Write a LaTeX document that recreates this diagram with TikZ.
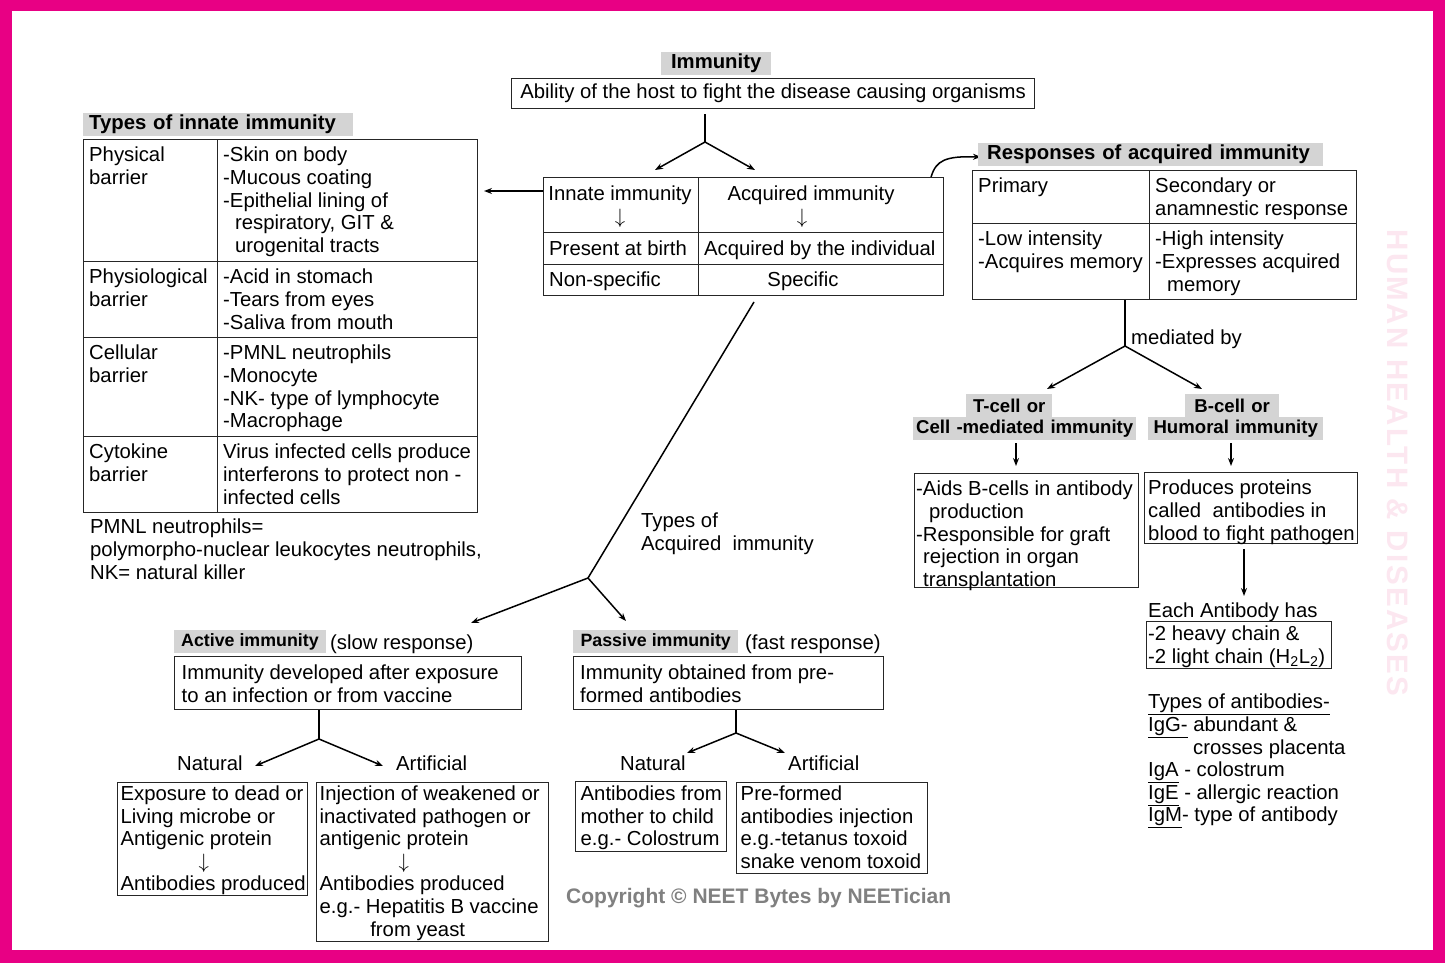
\documentclass[tikz,border=0pt]{standalone}
\usepackage{fontspec}
\setmainfont{Liberation Sans}
\usetikzlibrary{arrows.meta}

\definecolor{borderpink}{RGB}{232,0,132}
\definecolor{labgray}{RGB}{212,212,212}
\definecolor{wmpink}{RGB}{252,231,240}
\definecolor{copygray}{RGB}{128,128,128}
\newcommand{\txtfont}{\fontsize{20.3}{22.6}\selectfont}
\newcommand{\labfont}{\fontsize{18.6}{22}\selectfont\bfseries}
\newcommand{\actfont}{\fontsize{17.8}{22}\selectfont\bfseries}
\newcommand{\dnarrow}{{\fontsize{20}{22.6}\selectfont$\downarrow$}}

\begin{document}
\begin{tikzpicture}[x=1pt, y=-1pt,
  cell/.style={rectangle, draw=black!85, line width=1.1pt, anchor=north west, inner sep=0pt},
  txt/.style={anchor=north west, inner sep=0pt, align=left, font=\txtfont},
  glabel/.style={rectangle, fill=labgray, anchor=north west, inner xsep=6pt, inner ysep=0pt, minimum height=23pt, font=\txtfont\bfseries},
  line/.style={line width=1.5pt},
  arr/.style={line width=1.5pt, -{Stealth[length=8pt,width=6pt]}}]

\useasboundingbox (0,0) rectangle (1445,963);
\fill[borderpink] (0,0) rectangle (1445,963);
\fill[white] (12,11) rectangle (1433,950);

% marca de agua
\node[rotate=-90, text=wmpink, font=\fontsize{29.5}{30}\selectfont\bfseries\addfontfeature{LetterSpace=8}] at (1398,463) (Wmark) {HUMAN HEALTH \& DISEASES};

%% INMUNIDAD
\node[glabel, text width=98pt, align=center] at (661,52) (Immu) {Immunity};
\node[cell, minimum width=523pt, minimum height=30pt, font=\txtfont] at (511,78) (Abil) {Ability of the host to fight the disease causing organisms};

\coordinate (F1) at (705,142);
\coordinate (F1L) at (655,170);
\coordinate (F1R) at (755,170);
\draw[line, shorten <=5pt] (Abil.south -| F1) -- (F1);
\draw[arr] (F1) -- (F1L);
\draw[arr] (F1) -- (F1R);

% Tabla innata / adquirida
\node[cell, minimum width=155pt, minimum height=55pt] at (543,177) (InnH) {};
\node[cell, minimum width=245pt, minimum height=55pt] at (698,177) (AcqH) {};
\node[cell, minimum width=155pt, minimum height=32pt] at (543,232) (InnB) {};
\node[cell, minimum width=245pt, minimum height=32pt] at (698,232) (AcqB) {};
\node[cell, minimum width=155pt, minimum height=31pt] at (543,264) (InnS) {};
\node[cell, minimum width=245pt, minimum height=31pt] at (698,264) (AcqS) {};

\node[txt, align=center, anchor=north] at (620,186) (InnT) {Innate immunity\\\dnarrow};
\node[txt, align=center, anchor=north] at (811,186) (AcqT) {Acquired immunity\\\hspace*{-18pt}\dnarrow};
\node[txt] at (549,240.5) (InnBT) {Present at birth};
\node[txt] at (704,240.5) (AcqBT) {Acquired by the individual};
\node[txt] at (549,271.5) (InnST) {Non-specific};
\node[txt, anchor=north] at (803,271.5) (AcqST) {Specific};

% Flechas a los lados
\coordinate (ToInn) at (484,191);
\draw[arr] (InnH.west |- ToInn) -- (ToInn);
\coordinate (ToResp) at (981,157);
\draw[arr] ([xshift=-13pt]AcqH.north east) .. controls (936,160) and (946,156) .. (ToResp);

%% TIPOS DE INMUNIDAD INNATA
\node[glabel, text width=258pt, align=left] at (83,113) (InnLab) {Types of innate immunity};

\node[cell, minimum width=134pt, minimum height=122pt] at (83,139) (PhysN) {};
\node[cell, minimum width=260pt, minimum height=122pt] at (217,139) (PhysD) {};
\node[cell, minimum width=134pt, minimum height=76pt] at (83,261) (PhyoN) {};
\node[cell, minimum width=260pt, minimum height=76pt] at (217,261) (PhyoD) {};
\node[cell, minimum width=134pt, minimum height=99pt] at (83,337) (CellN) {};
\node[cell, minimum width=260pt, minimum height=99pt] at (217,337) (CellD) {};
\node[cell, minimum width=134pt, minimum height=76pt] at (83,436) (CytoN) {};
\node[cell, minimum width=260pt, minimum height=76pt] at (217,436) (CytoD) {};

\node[txt] at (89,147) (PhysNT) {Physical\\barrier};
\node[txt] at (223,147) (PhysDT) {-Skin on body\\-Mucous coating\\-Epithelial lining of\\\hspace*{12pt}respiratory, GIT \&\\\hspace*{12pt}urogenital tracts};
\node[txt] at (89,269) (PhyoNT) {Physiological\\barrier};
\node[txt] at (223,269) (PhyoDT) {-Acid in stomach\\-Tears from eyes\\-Saliva from mouth};
\node[txt] at (89,345) (CellNT) {Cellular\\barrier};
\node[txt] at (223,345) (CellDT) {-PMNL neutrophils\\-Monocyte\\-NK- type of lymphocyte\\-Macrophage};
\node[txt] at (89,444) (CytoNT) {Cytokine\\barrier};
\node[txt] at (223,444) (CytoDT) {Virus infected cells produce\\interferons to protect non -\\infected cells};

\node[txt] at (90,519) (Foot) {PMNL neutrophils=\\polymorpho-nuclear leukocytes neutrophils,\\NK= natural killer};

%% RESPUESTAS DE INMUNIDAD ADQUIRIDA
\node[glabel, inner xsep=9pt, text width=327pt, align=left] at (978,143) (RespLab) {Responses of acquired immunity};

\node[cell, minimum width=177pt, minimum height=53pt] at (972,170) (PrimH) {};
\node[cell, minimum width=207pt, minimum height=53pt] at (1149,170) (SecH) {};
\node[cell, minimum width=177pt, minimum height=76pt] at (972,223) (PrimB) {};
\node[cell, minimum width=207pt, minimum height=76pt] at (1149,223) (SecB) {};

\node[txt] at (978,178) (PrimHT) {Primary};
\node[txt] at (1155,178) (SecHT) {Secondary or\\anamnestic response};
\node[txt] at (978,231) (PrimBT) {-Low intensity\\-Acquires memory};
\node[txt] at (1155,231) (SecBT) {-High intensity\\-Expresses acquired\\\hspace*{12pt}memory};

\coordinate (F2) at (1125,346);
\coordinate (F2L) at (1047,389);
\coordinate (F2R) at (1202,389);
\draw[line] (PrimB.south -| F2) -- (F2);
\draw[arr] (F2) -- (F2L);
\draw[arr] (F2) -- (F2R);
\node[txt] at (1131,330) (Medi) {mediated by};

% Celulas T y B
\node[glabel, font=\labfont, inner xsep=0pt, text width=86pt, align=center] at (966,394) (TLab1) {T-cell or};
\node[glabel, font=\labfont, inner xsep=0pt, text width=223pt, align=center] at (913,417) (TLab2) {Cell -mediated immunity};
\node[glabel, font=\labfont, inner xsep=0pt, text width=94pt, align=center] at (1185,394) (BLab1) {B-cell or};
\node[glabel, font=\labfont, inner xsep=0pt, text width=175pt, align=center] at (1148,417) (BLab2) {Humoral immunity};

\coordinate (TA) at (1016,466);
\coordinate (BA) at (1231,466);
\draw[arr, shorten <=3pt] (TLab2.south -| TA) -- (TA);
\draw[arr, shorten <=3pt] (BLab2.south -| BA) -- (BA);

\node[cell, minimum width=224pt, minimum height=114pt] at (914,473) (TBox) {};
\node[txt] at (916,481) (TBoxT) {-Aids B-cells in antibody\\\hspace*{13pt}production\\-Responsible for graft\\\hspace*{7pt}rejection in organ\\\hspace*{7pt}transplantation};
\node[cell, minimum width=213pt, minimum height=71pt] at (1144,472) (BBox) {};
\node[txt] at (1148,480) (BBoxT) {Produces proteins\\called~ antibodies in\\blood to fight pathogen};

\coordinate (EA) at (1244,596);
\draw[arr, shorten <=5pt] (BBox.south -| EA) -- (EA);
\node[txt] at (1148,603) (Each) {Each Antibody has};
\node[cell, minimum width=185pt, minimum height=47pt] at (1146,621) (Chain) {};
\node[txt] at (1148,626) (ChainT) {-2 heavy chain \&\\-2 light chain (H\textsubscript{2}L\textsubscript{2})};

\node[txt] at (1148,694) (AbTypes) {\underline{Types of antibodies-}\\\underline{IgG-} abundant \&\\\hspace*{45pt}crosses placenta\\\underline{IgA} - colostrum\\\underline{IgE} - allergic reaction\\\underline{IgM}- type of antibody};

%% TIPOS DE INMUNIDAD ADQUIRIDA
\coordinate (M0) at (754,302);
\coordinate (F3) at (588,578);
\coordinate (ToAct) at (471,623);
\coordinate (ToPas) at (626,621);
\draw[line] (M0) -- (F3);
\draw[arr] (F3) -- (ToAct);
\draw[arr] (F3) -- (ToPas);
\node[txt] at (641,513) (TypAcq) {Types of\\Acquired~ immunity};

% Activa
\node[glabel, font=\actfont, inner xsep=7pt, minimum width=151pt, align=left] at (174,630) (ActLab) {Active immunity};
\node[txt] at (330,634.5) (ActSlow) {(slow response)};
\node[cell, minimum width=347pt, minimum height=53pt] at (174,656) (ActBox) {};
\node[txt] at (181.5,665) (ActBoxT) {Immunity developed after exposure\\to an infection or from vaccine};

\coordinate (F4) at (319,739);
\coordinate (F4L) at (255,766);
\coordinate (F4R) at (383,766);
\draw[line] (ActBox.south -| F4) -- (F4);
\draw[arr] (F4) -- (F4L);
\draw[arr] (F4) -- (F4R);
\node[txt] at (177,756) (ActNatL) {Natural};
\node[txt] at (396,756) (ActArtL) {Artificial};

\node[cell, minimum width=190pt, minimum height=113pt] at (117,782) (ActNat) {};
\node[txt] at (120.5,785.5) (ActNatT) {Exposure to dead or\\Living microbe or\\Antigenic protein\\\hspace*{83pt}\makebox[0pt]{\dnarrow}\\Antibodies produced};
\node[cell, minimum width=232pt, minimum height=159pt] at (316,782) (ActArt) {};
\node[txt] at (319.5,785.5) (ActArtT) {Injection of weakened or\\inactivated pathogen or\\antigenic protein\\\hspace*{84pt}\makebox[0pt]{\dnarrow}\\Antibodies produced\\e.g.- Hepatitis B vaccine\\\hspace*{98pt}\makebox[0pt]{from yeast}};

% Pasiva
\node[glabel, font=\actfont, inner xsep=7pt, minimum width=165pt, align=left] at (573,630) (PasLab) {Passive immunity};
\node[txt] at (745,634.5) (PasFast) {(fast response)};
\node[cell, minimum width=310pt, minimum height=53pt] at (573,656) (PasBox) {};
\node[txt] at (580,665) (PasBoxT) {Immunity obtained from pre-\\formed antibodies};

\coordinate (F5) at (736,733);
\coordinate (F5L) at (687,753);
\coordinate (F5R) at (785,753);
\draw[line] (PasBox.south -| F5) -- (F5);
\draw[arr] (F5) -- (F5L);
\draw[arr] (F5) -- (F5R);
\node[txt] at (620,755.5) (PasNatL) {Natural};
\node[txt] at (788,755.5) (PasArtL) {Artificial};

\node[cell, minimum width=151pt, minimum height=70pt] at (575,781) (PasNat) {};
\node[txt] at (580.5,785.5) (PasNatT) {Antibodies from\\mother to child\\e.g.- Colostrum};
\node[cell, minimum width=191pt, minimum height=91pt] at (736,782) (PasArt) {};
\node[txt] at (740.5,785.5) (PasArtT) {Pre-formed\\antibodies injection\\e.g.-tetanus toxoid\\snake venom toxoid};

% Copyright
\node[anchor=base west, inner sep=0pt, text=copygray, font=\fontsize{21}{24}\selectfont\bfseries] at (566,903) (Copy) {Copyright © NEET Bytes by NEETician};

\end{tikzpicture}
\end{document}
